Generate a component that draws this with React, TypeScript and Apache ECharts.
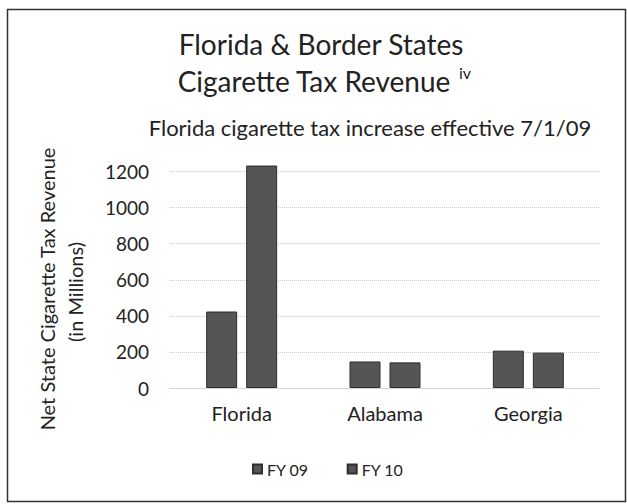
import React, { useEffect, useRef } from "react";
import * as echarts from "echarts";

const categories = ["Florida", "Alabama", "Georgia"];
const fy09 = [424, 147, 207];
const fy10 = [1233, 142, 196];
const seriesNames = ["FY 09", "FY 10"];
const yTicks = { min: 0, max: 1200, interval: 200 };

const FONT = "Lato, 'Open Sans', sans-serif";

export default function App() {
  const ref = useRef<HTMLDivElement>(null);
  useEffect(() => {
    if (!ref.current) return;
    const chart = echarts.init(ref.current, null, { renderer: "svg" });
    const barStyle = {
      color: "#555555",
      borderColor: "#2e2e2e",
      borderWidth: 1,
    };
    chart.setOption({
      animation: false,
      backgroundColor: "#ffffff",
      textStyle: { fontFamily: FONT, color: "#222" },
      grid: { left: 170, right: 27, top: 171.5, bottom: 116 },
      graphic: [
        {
          type: "rect",
          shape: { x: 7.5, y: 9.5, width: 618, height: 492 },
          style: { fill: "none", stroke: "#333", lineWidth: 1.5 },
          silent: true,
        },
        {
          type: "text",
          x: 321,
          y: 44,
          style: {
            text: "Florida & Border States",
            font: `28px ${FONT}`,
            fill: "#222",
            align: "center",
            verticalAlign: "middle",
          },
        },
        {
          type: "text",
          x: 314,
          y: 81,
          style: {
            text: "Cigarette Tax Revenue",
            font: `28px ${FONT}`,
            fill: "#222",
            align: "center",
            verticalAlign: "middle",
          },
        },
        {
          type: "text",
          x: 459,
          y: 72,
          style: {
            text: "iv",
            font: `16px ${FONT}`,
            fill: "#222",
            align: "left",
            verticalAlign: "middle",
          },
        },
        {
          type: "text",
          x: 370,
          y: 127,
          style: {
            text: "Florida cigarette tax increase effective 7/1/09",
            font: `22px ${FONT}`,
            fill: "#222",
            align: "center",
            verticalAlign: "middle",
          },
        },
        {
          type: "text",
          x: 47,
          y: 289,
          rotation: Math.PI / 2,
          style: {
            text: "Net State Cigarette Tax Revenue",
            font: `20px ${FONT}`,
            fill: "#222",
            align: "center",
            verticalAlign: "middle",
          },
        },
        {
          type: "text",
          x: 75,
          y: 292,
          rotation: Math.PI / 2,
          style: {
            text: "(in Millions)",
            font: `20px ${FONT}`,
            fill: "#222",
            align: "center",
            verticalAlign: "middle",
          },
        },
      ],
      legend: {
        data: seriesNames,
        top: 456,
        left: 247,
        itemWidth: 9,
        itemHeight: 9,
        itemGap: 38,
        icon: "rect",
        textStyle: { fontFamily: FONT, fontSize: 16, color: "#222" },
      },
      xAxis: {
        type: "category",
        data: categories,
        axisLine: { show: true, lineStyle: { color: "#cccccc", type: "dotted" } },
        axisTick: { show: false },
        axisLabel: { fontFamily: FONT, fontSize: 20, color: "#222", margin: 15 },
      },
      yAxis: {
        type: "value",
        min: yTicks.min,
        max: yTicks.max,
        interval: yTicks.interval,
        axisLine: { show: false },
        axisTick: { show: false },
        axisLabel: {
          fontFamily: FONT,
          fontSize: 19,
          color: "#222",
          margin: 21,
          formatter: (v: number) => String(v),
        },
        splitLine: { lineStyle: { color: "#c8c8c8", type: "dotted", width: 1 } },
      },
      series: [
        {
          name: seriesNames[0],
          type: "bar",
          data: fy09,
          barWidth: 31,
          barGap: "29%",
          clip: false,
          itemStyle: barStyle,
        },
        {
          name: seriesNames[1],
          type: "bar",
          data: fy10,
          barWidth: 31,
          barGap: "29%",
          clip: false,
          itemStyle: barStyle,
        },
      ],
    });
    return () => chart.dispose();
  }, []);
  return (
    <div
      ref={ref}
      style={{ position: "absolute", left: 0, top: 0, width: 627, height: 504 }}
    />
  );
}
